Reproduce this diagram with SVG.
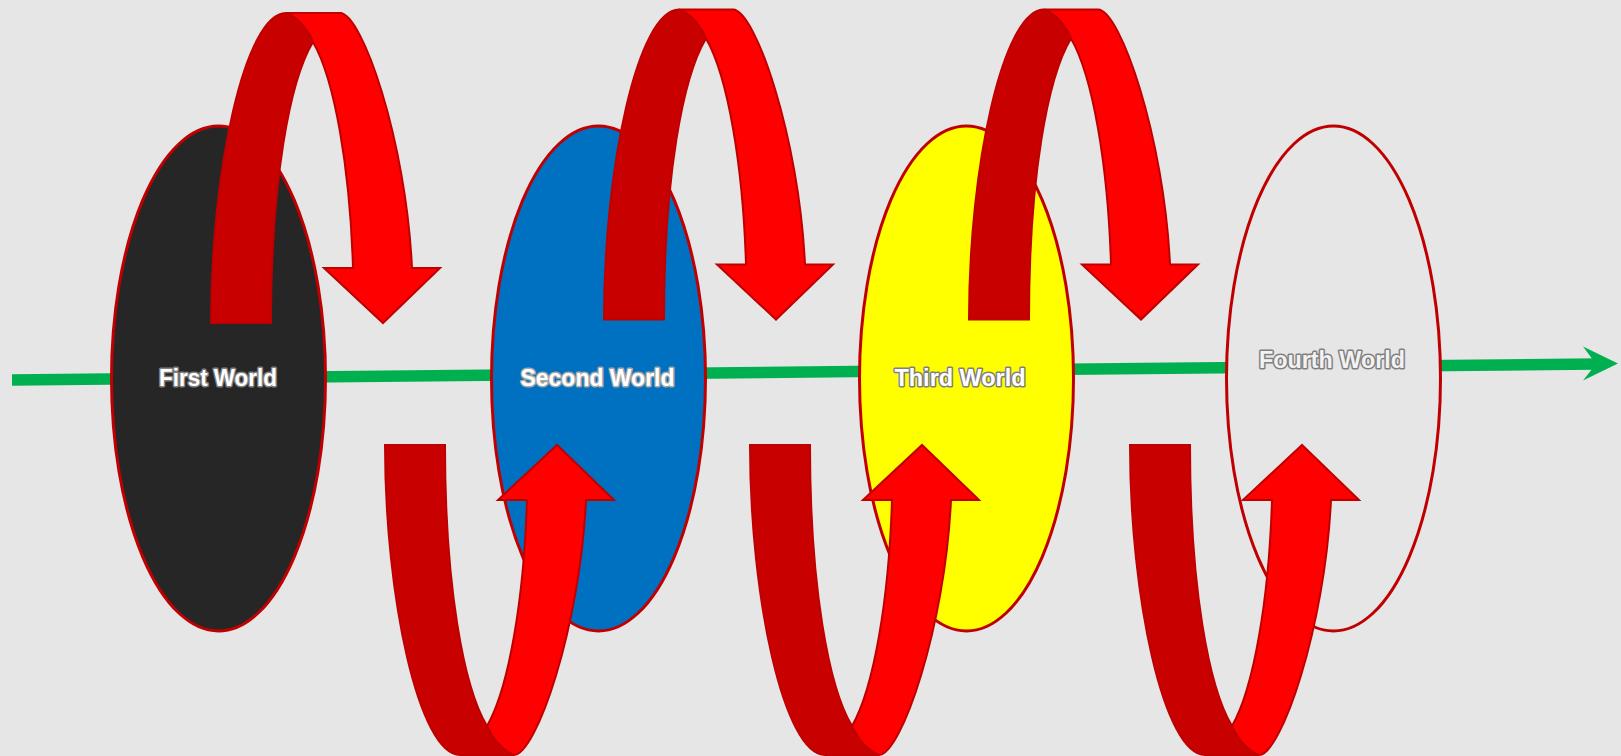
<svg xmlns="http://www.w3.org/2000/svg" width="1621" height="756" viewBox="0 0 1621 756">
  <style>
    .world { stroke: #C00000; stroke-width: 3; }
    .lbl { font-family: "Liberation Sans", Arial, sans-serif; font-weight: bold; font-size: 23px; text-anchor: middle; stroke: #7F7F7F; stroke-width: 3; paint-order: stroke; stroke-linejoin: round; }
    .back { fill: #C80000; stroke: #BF0000; stroke-width: 2; stroke-linejoin: miter; }
    .front { fill: #FF0000; stroke: #BF0000; stroke-width: 2; stroke-linejoin: miter; }
  </style>
  <defs>
    <g id="topArrow">
      <path class="front" d="M 286,13 L 340,13 C 362,13 406,140 412,268 L 440,268 L 383,323 L 324,268 L 353,268 C 350,170 335,80 313,42 Q 303,20 286,13 Z"/>
      <path class="back" d="M 211,323 C 211,170 245,13 286,13 Q 303,20 313,42 C 290,80 271,180 271,323 Z"/>
    </g>
    <g id="bottomArrow">
      <path class="back" d="M 385,445 L 445,445 C 445,588 464,688 487,726 Q 497,748 514,755 L 460,755 C 419,755 385,598 385,445 Z"/>
      <path class="front" d="M 514,755 C 536,755 580,628 586,500 L 614,500 L 557,445 L 498,500 L 527,500 C 524,598 509,688 487,726 Q 497,748 514,755 Z"/>
    </g>
  </defs>
  <rect x="0" y="0" width="1621" height="756" fill="#E6E6E6"/>

  <g id="connectors">
    <line x1="12" y1="380" x2="1597" y2="364" stroke="#00B050" stroke-width="11.5"/>
    <polygon points="1583,346.5 1618,363.5 1583,380.5 1596,364" fill="#00B050"/>
  </g>

  <g id="first-world">
    <ellipse class="world" cx="218.5" cy="378.5" rx="107" ry="252.5" fill="#262626"/>
    <text class="lbl" x="218" y="386" fill="#FFFFFF" textLength="118" lengthAdjust="spacingAndGlyphs">First World</text>
  </g>
  <g id="second-world">
    <ellipse class="world" cx="598.5" cy="378.5" rx="107" ry="252.5" fill="#0070C0"/>
    <text class="lbl" x="597.5" y="386" fill="#FFFFFF" textLength="154" lengthAdjust="spacingAndGlyphs" style="stroke:#A6A6A6">Second World</text>
  </g>
  <g id="third-world">
    <ellipse class="world" cx="966.5" cy="378.5" rx="107" ry="252.5" fill="#FFFF00"/>
    <text class="lbl" x="960" y="386" fill="#FFFFFF" textLength="131" lengthAdjust="spacingAndGlyphs">Third World</text>
  </g>
  <g id="fourth-world">
    <ellipse class="world" cx="1333.5" cy="378.5" rx="107" ry="252.5" fill="#E7E6E6"/>
    <text class="lbl" x="1332" y="368" fill="#F2F2F2" textLength="146" lengthAdjust="spacingAndGlyphs">Fourth World</text>
  </g>

  <g id="arrow-top-1"><use href="#topArrow"/></g>
  <g id="arrow-top-2" transform="translate(393,-3.5)"><use href="#topArrow"/></g>
  <g id="arrow-top-3" transform="translate(758,-3.5)"><use href="#topArrow"/></g>
  <g id="arrow-bottom-1"><use href="#bottomArrow"/></g>
  <g id="arrow-bottom-2" transform="translate(365,0)"><use href="#bottomArrow"/></g>
  <g id="arrow-bottom-3" transform="translate(745,0)"><use href="#bottomArrow"/></g>
</svg>
